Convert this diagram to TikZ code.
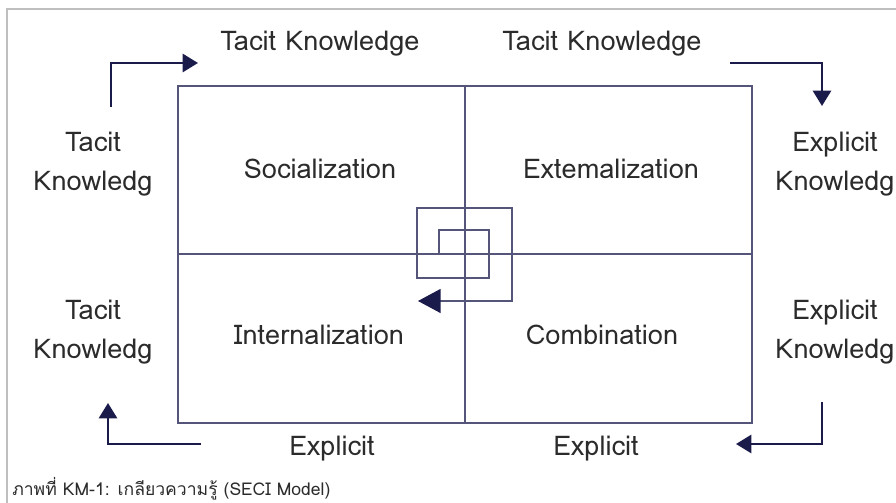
\documentclass[tikz,border=0pt]{standalone}
\usepackage{fontspec}
\setmainfont{Loma}
\newfontfamily\thaifont[Script=Thai]{Loma}
\usetikzlibrary{arrows.meta}
\definecolor{navy}{HTML}{1B1B4B}
\definecolor{gridline}{HTML}{55557A}
\definecolor{txt}{HTML}{2B2B2B}
\tikzstyle{kword}=[text=txt,font=\fontsize{19.3}{28}\selectfont,align=center,inner sep=0pt]
\tikzstyle{flow}=[draw=navy,line width=1.8pt,-{Triangle[length=11pt,width=13pt]}]
\tikzstyle{quad}=[draw=gridline,line width=0.8pt]

\begin{document}
\begin{tikzpicture}[x=0.025cm,y=-0.025cm]
    \useasboundingbox (0,0) rectangle (896,503);
    % page frame
    \draw[black!25,line width=1pt] (896,9) -- (7,9) -- (7,503);

    % the four quadrants
    \coordinate (nw) at (178,86);
    \coordinate (se) at (752,423);
    \draw[quad] (nw) rectangle (se);
    \draw[quad] (465,86) -- (465,423);
    \draw[quad] (178,254) -- (752,254);

    % spiral in the middle
    \draw[quad,-{Triangle[length=16pt,width=17pt,color=navy]}]
        (439,254) -- (439,230) -- (489,230) -- (489,278) -- (417,278)
        -- (417,208) -- (512,208) -- (512,301) -- (418,301);

    % quadrant names
    \foreach \pos/\name/\txt in {{(320,169)/soc/Socialization},{(611,169)/ext/Extemalization},
        {(319,335)/int/Internalization},{(602,335)/com/Combination}}
        \node[kword] (\name) at \pos {\txt};

    % knowledge labels round the square
    \foreach \pos/\name/\txt in {{(320,44)/tacittl/Tacit Knowledge},{(602,44)/tacittr/Tacit Knowledge},
        {(93,164)/tacitlt/{Tacit\\Knowledg}},{(93,332)/tacitlb/{Tacit\\Knowledg}},
        {(835,164)/explrt/{Explicit\\Knowledg}},{(835,332)/explrb/{Explicit\\Knowledg}},
        {(332,449)/explbl/Explicit},{(596,449)/explbr/Explicit}}
        \node[kword] (\name) at \pos {\txt};

    % corner arrows
    \coordinate (a1s) at (111,107); \coordinate (a1e) at (198,63);
    \coordinate (a2s) at (730,63);  \coordinate (a2e) at (822,106);
    \coordinate (a3s) at (822,402); \coordinate (a3e) at (736,444);
    \coordinate (a4s) at (201,444); \coordinate (a4e) at (108,403);
    \draw[flow] (a1s) |- (a1e);
    \draw[flow] (a2s) -| (a2e);
    \draw[flow] (a3s) |- (a3e);
    \draw[flow] (a4s) -| (a4e);

    % caption
    \node[anchor=west,text=txt,inner sep=0pt,font=\thaifont\fontsize{12.5}{15}\selectfont] (cap) at (12,489)
        {ภาพที่ KM-1: เกลียวความรู้ (SECI Model)};
\end{tikzpicture}
\end{document}
